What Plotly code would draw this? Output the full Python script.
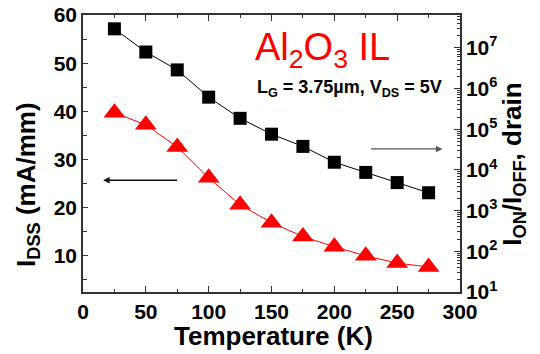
import plotly.graph_objects as go

temperature = [25, 50, 75, 100, 125, 150, 175, 200, 225, 250, 275]
idss = [39.7, 37.2, 32.6, 26.2, 20.6, 16.9, 14.0, 11.9, 10.0, 8.5, 7.7]
log_on_off = [7.47, 6.90, 6.46, 5.79, 5.27, 4.88, 4.58, 4.19, 3.94, 3.69, 3.44]
on_off = [10 ** v for v in log_on_off]

x_ticks = [0, 50, 100, 150, 200, 250, 300]
y_ticks = [10, 20, 30, 40, 50, 60]
r_exps = [1, 2, 3, 4, 5, 6, 7]

FONT = "Liberation Sans, Arial, sans-serif"
AXC = "#333333"

fig = go.Figure()
fig.add_trace(go.Scatter(
    x=temperature, y=idss, mode="lines+markers",
    line=dict(color="#ff0000", width=1),
    marker=dict(symbol="triangle-up", size=19, color="#ff0000", line=dict(width=0)),
    yaxis="y", showlegend=False))
fig.add_trace(go.Scatter(
    x=temperature, y=on_off, mode="lines+markers",
    line=dict(color="#000000", width=1),
    marker=dict(symbol="square", size=13, color="#000000", line=dict(width=0)),
    yaxis="y2", showlegend=False))

minor_log = [k * 10 ** e for e in range(1, 8) for k in range(2, 10)]

fig.update_layout(
    width=540, height=354,
    margin=dict(l=83, r=80, t=15, b=62, autoexpand=False),
    paper_bgcolor="white", plot_bgcolor="white",
    font=dict(family=FONT, color="black"),
    xaxis=dict(range=[0, 300], tickvals=x_ticks, ticks="inside", ticklen=6, tickwidth=1.2,
               tickcolor=AXC, showline=True, linecolor=AXC, linewidth=1.5, mirror="ticks",
               showgrid=False, zeroline=False, automargin=False,
               minor=dict(tickvals=[25, 75, 125, 175, 225, 275], ticks="inside", ticklen=3,
                          tickcolor=AXC, showgrid=False),
               tickfont=dict(size=21, weight="bold", family=FONT)),
    yaxis=dict(range=[2.5, 60], tickvals=y_ticks, ticks="inside", ticklen=5, tickwidth=1.2,
               tickcolor=AXC, showline=True, linecolor=AXC, linewidth=1.5,
               showgrid=False, zeroline=False, automargin=False,
               minor=dict(tickvals=[5, 15, 25, 35, 45, 55], ticks="inside", ticklen=4,
                          tickcolor=AXC, showgrid=False),
               tickfont=dict(size=21, weight="bold", family=FONT)),
    yaxis2=dict(type="log", range=[1, 7.81], overlaying="y", side="right",
                tickvals=[10 ** e for e in r_exps],
                ticktext=["10<sup>%d</sup>" % e for e in r_exps],
                ticks="inside", ticklen=6, tickwidth=1.2, tickcolor=AXC,
                showline=True, linecolor=AXC, linewidth=1.5,
                showgrid=False, zeroline=False, automargin=False,
                minor=dict(tickvals=minor_log, ticks="inside", ticklen=3, tickcolor=AXC,
                           showgrid=False),
                tickfont=dict(size=21, weight="bold", family=FONT)),
)

annotations = [
    dict(text="Temperature (K)", xref="paper", yref="paper", x=0.504, y=-0.16,
         xanchor="center", yanchor="middle", showarrow=False,
         font=dict(size=26, weight="bold", family=FONT)),
    dict(text="I<sub>DSS</sub> (mA/mm)", xref="paper", yref="paper", x=-0.146, y=0.39,
         xanchor="center", yanchor="middle", textangle=-90, showarrow=False,
         font=dict(size=26, weight="bold", family=FONT)),
    dict(text="I<sub>ON</sub>/I<sub>OFF</sub>, drain", xref="paper", yref="paper", x=1.141, y=0.46,
         xanchor="center", yanchor="middle", textangle=-90, showarrow=False,
         font=dict(size=26, weight="bold", family=FONT)),
    dict(text="Al<sub>2</sub>O<sub>3</sub> IL", xref="paper", yref="paper", x=0.45, y=0.875,
         xanchor="left", yanchor="middle", showarrow=False,
         font=dict(size=38, color="#ff0000", family=FONT)),
    dict(text="L<sub>G</sub> = 3.75µm, V<sub>DS</sub> = 5V", xref="paper", yref="paper", x=0.455, y=0.735,
         xanchor="left", yanchor="middle", showarrow=False,
         font=dict(size=18, weight="bold", family=FONT)),
    dict(x=16, y=25.7, ax=76, ay=25.7, xref="x", yref="y", axref="x", ayref="y",
         showarrow=True, arrowhead=2, arrowsize=1, arrowwidth=1.3, arrowcolor="#111111", text=""),
    dict(x=286, y=32.2, ax=228, ay=32.2, xref="x", yref="y", axref="x", ayref="y",
         showarrow=True, arrowhead=2, arrowsize=1, arrowwidth=1.3, arrowcolor="#555555", text=""),
]
fig.update_layout(annotations=annotations)

fig.write_html("out.html")
